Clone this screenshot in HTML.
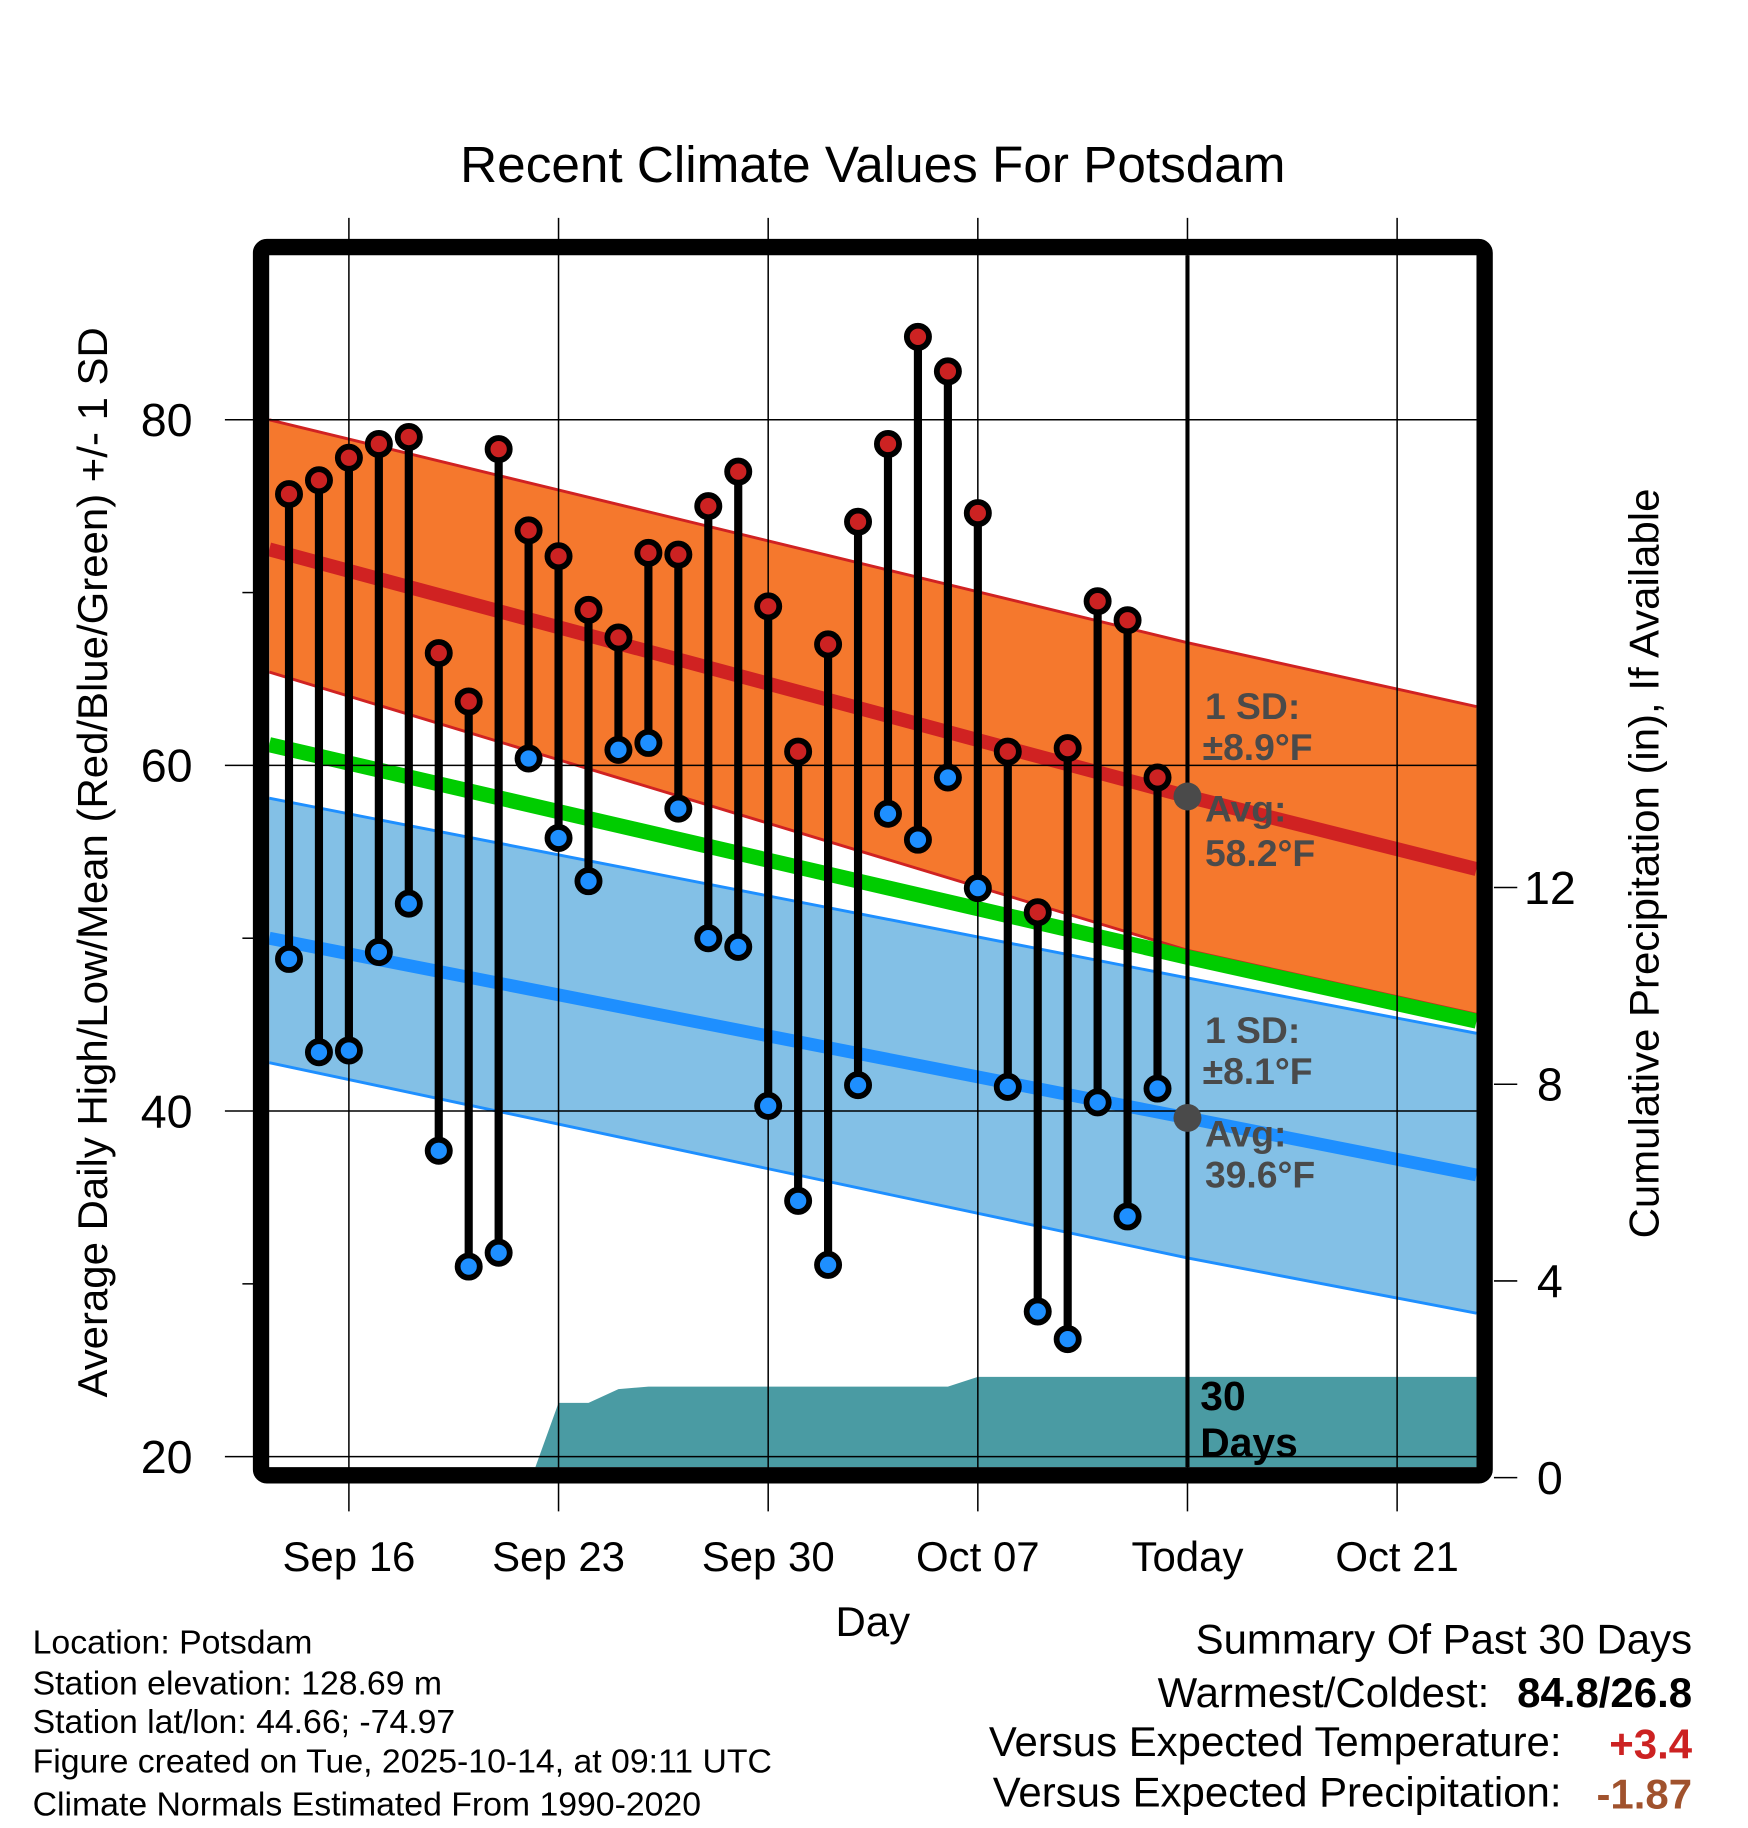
<!DOCTYPE html>
<html><head><meta charset="utf-8"><style>
html,body{margin:0;padding:0;background:#fff;}
svg{display:block;font-family:"Liberation Sans",Arial,sans-serif;}
</style></head><body>
<svg id="chart" width="1748" height="1828" viewBox="0 0 1500 1568.65" xmlns="http://www.w3.org/2000/svg">
<text x="749" y="156" font-size="44" text-anchor="middle">Recent Climate Values For Potsdam</text>
<g id="layer"></g>
</svg>
<script>
// ---- data ----
const dayLabels = ["Sep 16","Sep 23","Sep 30","Oct 07","Today","Oct 21"];
const dayLabelIdx = [2,9,16,23,30,37];
const highs = [75.7,76.5,77.8,78.6,79.0,66.5,63.7,78.3,73.6,72.1,69.0,67.4,72.3,72.2,75.0,77.0,69.2,60.8,67.0,74.1,78.6,84.8,82.8,74.6,60.8,51.5,61.0,69.5,68.4,59.3];
const lows  = [48.8,43.4,43.5,49.2,52.0,37.7,31.0,31.8,60.4,55.8,53.3,60.9,61.3,57.5,50.0,49.5,40.3,34.8,31.1,41.5,57.2,55.7,59.3,52.9,41.4,28.4,26.8,40.5,33.9,41.3];
const precip = [0,0,0,0,0,0,0,0,0,1.52,0,0.28,0.05,0,0,0,0,0,0,0,0,0,0,0.2,0,0,0,0,0,0];
const normDays = [-0.66,30,39.65];
const normHigh = [72.5,58.2,54.0];
const normHighUp = [80.0,67.1,63.4];
const normHighLo = [65.4,49.3,45.6];
const normMean = [61.2,48.9,45.2];
const normLow = [50.0,39.6,36.3];
const normLowUp = [58.1,47.7,44.5];
const normLowLo = [42.8,31.5,28.3];
const yTicks = [20,40,60,80];
const yMinor = [30,50,70];
const pTicks = [0,4,8,12];

// ---- scales ----
const X = d => 248 + 25.7*d;
const Y = t => 1250 - (t-20)*14.83;
const P = p => 1268 - p*42.2;
const L = document.getElementById('layer');
const NS = 'http://www.w3.org/2000/svg';
function mk(tag, attrs, parent){const e=document.createElementNS(NS,tag);for(const k in attrs)e.setAttribute(k,attrs[k]);(parent||L).appendChild(e);return e;}
const PL=231, PR=1267, PT=219, PB=1259;
const pts = (days, vals) => days.map((d,i)=>X(d)+','+Y(vals[i])).join(' ');

const defs=mk('defs',{});
const cp=mk('clipPath',{id:'plotclip'},defs);
mk('rect',{x:PL,y:PT,width:PR-PL,height:PB-PT},cp);
const G=mk('g',{'clip-path':'url(#plotclip)'});

let e;
e=mk('polygon',{points:pts(normDays,normHighUp)+' '+pts(normDays.slice().reverse(),normHighLo.slice().reverse()),fill:'#f5782d'},G);

e=mk('polygon',{points:pts(normDays,normLowUp)+' '+pts(normDays.slice().reverse(),normLowLo.slice().reverse()),fill:'#83c0e6'},G);

[[normHighUp,'#d02222',2.5],[normHighLo,'#d02222',2.5],[normLowUp,'#1e8fff',2.5],[normLowLo,'#1e8fff',2.5]].forEach(a=>{
  e=mk('polyline',{points:pts(normDays,a[0]),fill:'none',stroke:a[1],'stroke-width':a[2]},G);
  
});
e=mk('polyline',{points:pts(normDays,normMean),fill:'none',stroke:'#00cc00','stroke-width':13},G);

e=mk('polyline',{points:pts(normDays,normHigh),fill:'none',stroke:'#d02222','stroke-width':12},G);

e=mk('polyline',{points:pts(normDays,normLow),fill:'none',stroke:'#1e8fff','stroke-width':11},G);


yTicks.forEach(t=>{e=mk('line',{x1:193,x2:PR,y1:Y(t),y2:Y(t),stroke:'#000','stroke-width':1.3});
 
 e=mk('text',{x:143,y:Y(t)+14,'font-size':40,'text-anchor':'middle'});e.textContent=t;
 });
yMinor.forEach(t=>{e=mk('line',{x1:208,x2:220,y1:Y(t),y2:Y(t),stroke:'#000','stroke-width':1.3});
 });
dayLabelIdx.forEach((d,i)=>{
 e=mk('line',{x1:X(d),x2:X(d),y1:187,y2:1297,stroke:'#000','stroke-width':1.3});
 
 e=mk('text',{x:X(d),y:1348,'font-size':36,'text-anchor':'middle'});e.textContent=dayLabels[i];
 });

let cum=0, ppts=[];
let first=precip.findIndex(v=>v>0);
ppts.push(X(first-0.9)+','+P(0));
for(let i=first;i<precip.length;i++){cum+=precip[i];ppts.push(X(i)+','+P(cum));}
ppts.push(X(39.65)+','+P(cum));ppts.push(X(39.65)+','+P(0));
e=mk('polygon',{points:ppts.join(' '),fill:'#4a9ba3'},G);


e=mk('line',{x1:X(30),x2:X(30),y1:PT,y2:PB,stroke:'#000','stroke-width':3.5});


highs.forEach((h,i)=>{
 e=mk('line',{x1:X(i),x2:X(i),y1:Y(h),y2:Y(lows[i]),stroke:'#000','stroke-width':7});
 
});
highs.forEach((h,i)=>{
 e=mk('circle',{cx:X(i),cy:Y(h),r:9.5,fill:'#cc2222',stroke:'#000','stroke-width':5});
 
 e=mk('circle',{cx:X(i),cy:Y(lows[i]),r:9.5,fill:'#1e8fff',stroke:'#000','stroke-width':5});
 
});
e=mk('circle',{cx:X(30),cy:Y(normHigh[1]),r:12,fill:'#4a4a4a'});

e=mk('circle',{cx:X(30),cy:Y(normLow[1]),r:12,fill:'#4a4a4a'});


function lbl(x,y,txt,name,fill,fs){const t=mk('text',{x:x,y:y,'font-size':fs||32,'font-weight':'bold',fill:fill});t.textContent=txt;
 }
lbl(1034,617,'1 SD:','high-sd-label','#4a4a4a');
lbl(1032,652,'±8.9°F','high-sd-value','#4a4a4a');
lbl(1034,705,'Avg:','high-avg-label','#4a4a4a');
lbl(1034,743,'58.2°F','high-avg-value','#4a4a4a');
lbl(1034,895,'1 SD:','low-sd-label','#4a4a4a');
lbl(1032,930,'±8.1°F','low-sd-value','#4a4a4a');
lbl(1034,984,'Avg:','low-avg-label','#4a4a4a');
lbl(1034,1019,'39.6°F','low-avg-value','#4a4a4a');
lbl(1030,1210,'30','precip-days-label','#000',35);
lbl(1030,1250,'Days','precip-days-label2','#000',35);

e=mk('rect',{x:224,y:212,width:1050,height:1054,fill:'none',stroke:'#000','stroke-width':14,rx:5});


pTicks.forEach(p=>{e=mk('line',{x1:1282,x2:1302,y1:P(p),y2:P(p),stroke:'#000','stroke-width':1.3});
 
 e=mk('text',{x:1330,y:P(p)+14,'font-size':40,'text-anchor':'middle'});e.textContent=p;
 });
</script>
<svg width="1748" height="1828" viewBox="0 0 1500 1568.65" style="position:absolute;left:0;top:0;font-family:'Liberation Sans',Arial,sans-serif">
<text transform="translate(92,740) rotate(-90)" font-size="36" text-anchor="middle">Average Daily High/Low/Mean (Red/Blue/Green) +/- 1 SD</text>
<text transform="translate(1423,741) rotate(-90)" font-size="36" text-anchor="middle">Cumulative Precipitation (in), If Available</text>
<text x="749" y="1404" font-size="36" text-anchor="middle">Day</text>
<g font-size="29">
<text x="28" y="1419">Location: Potsdam</text>
<text x="28" y="1454">Station elevation: 128.69 m</text>
<text x="28" y="1487">Station lat/lon: 44.66; -74.97</text>
<text x="28" y="1521">Figure created on Tue, 2025-10-14, at 09:11 UTC</text>
<text x="28" y="1558">Climate Normals Estimated From 1990-2020</text>
</g>
<g font-size="36" text-anchor="end">
<text x="1452" y="1419">Summary Of Past 30 Days</text>
<text x="1278" y="1465">Warmest/Coldest:</text>
<text x="1452" y="1465" font-weight="bold">84.8/26.8</text>
<text x="1340" y="1507">Versus Expected Temperature:</text>
<text x="1452" y="1509" font-weight="bold" fill="#cc2222">+3.4</text>
<text x="1340" y="1550">Versus Expected Precipitation:</text>
<text x="1452" y="1552" font-weight="bold" fill="#a0522d">-1.87</text>
</g>
</svg>
</body></html>
